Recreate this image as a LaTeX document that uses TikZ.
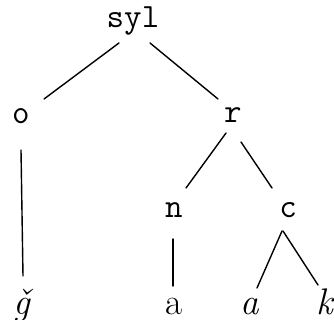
\documentclass[tikz,border=0pt]{standalone}
\begin{document}
\begin{tikzpicture}[x=1pt,y=-1pt,
  lbl/.style={anchor=base,inner sep=0pt,font=\fontsize{34}{36}\selectfont\ttfamily},
  leaf/.style={anchor=base,inner sep=0pt,font=\fontsize{37}{40}\selectfont},
  edge/.style={line width=1.4pt,line cap=round}]
\useasboundingbox (0,0) rectangle (334,320);
\node[lbl] (syl) at (133,28) {syl};
\node[lbl] (o) at (21,124) {o};
\node[lbl] (r) at (233,123) {r};
\node[lbl] (n) at (174,218) {n};
\node[lbl] (c) at (288,218) {c};
\node[leaf] (g) at (22,314) {\itshape\v{g}};
\node[leaf] (a1) at (174,314) {a};
\node[leaf] (a2) at (250,314) {\itshape a};
\node[leaf] (k) at (325,314) {\itshape k};
\draw[edge] ([shift={(-14,15)}]syl.base) -- ([shift={(23,-25)}]o.base);
\draw[edge] ([shift={(17,15)}]syl.base) -- ([shift={(-15,-24)}]r.base);
\draw[edge] ([shift={(-7,10)}]r.base) -- ([shift={(12,-30)}]n.base);
\draw[edge] ([shift={(8,19)}]r.base) -- ([shift={(-16,-30)}]c.base);
\draw[edge] ([shift={(0,26)}]o.base) -- ([shift={(1,-38)}]g.base);
\draw[edge] ([shift={(-1,21)}]n.base) -- ([shift={(-1,-28)}]a1.base);
\draw[edge] ([shift={(-6,13)}]c.base) -- ([shift={(7,-26)}]a2.base);
\draw[edge] ([shift={(-5,13)}]c.base) -- ([shift={(-7,-29)}]k.base);
\end{tikzpicture}
\end{document}
